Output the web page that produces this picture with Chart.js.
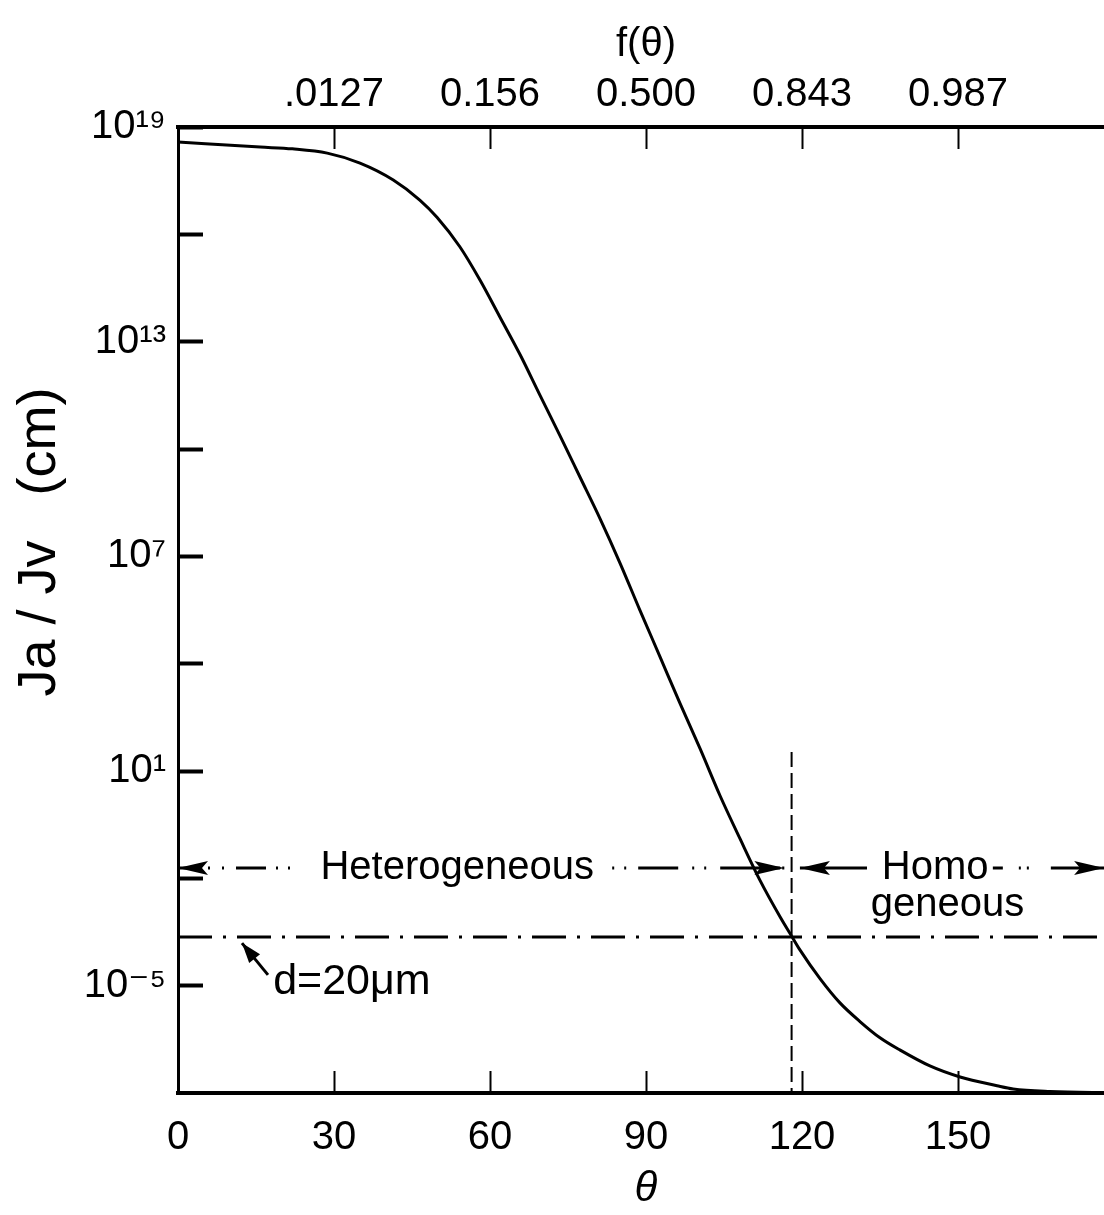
<!DOCTYPE html>
<html>
<head>
<meta charset="utf-8">
<script src="https://cdn.jsdelivr.net/npm/chart.js@4/dist/chart.umd.min.js"></script>
<style>
html,body{margin:0;padding:0;background:#fff;overflow:hidden;width:1104px;height:1215px}
#wrap{position:absolute;left:0;top:0;width:1140px;height:1215px}
canvas{display:block}
</style>
</head>
<body>
<div id="wrap"><canvas id="c" width="1140" height="1215"></canvas></div>
<script>
// ---- data ----
const thetaDeg = [0, 15.8, 22, 28.7, 35, 41.4, 46.5, 49.8, 54.2, 58.1, 61.9, 65.8, 69.6, 73.5, 77.3, 81.2, 85, 88.8, 92.7, 96.5, 100.4, 104.2, 108.1, 111.9, 115.8, 118.1, 119.6, 123.5, 127.3, 131.2, 135, 138.8, 144.6, 150.4, 157.5, 160.6, 167.7, 180];
const jaOverJv = [3.8e18, 2.75e18, 2.45e18, 1.86e18, 9.8e17, 3.3e17, 9.1e16, 3.0e16, 4.5e15, 5.2e14, 4.9e13, 4.3e12, 3.2e11, 2.3e10, 1.65e9, 1.1e8, 6.5e6, 3.2e5, 1.55e4, 800, 42, 2.1, 0.126, 8.9e-3, 8.3e-4, 2.3e-4, 1.0e-4, 1.55e-5, 3.3e-6, 9.8e-7, 3.5e-7, 1.6e-7, 5.7e-8, 2.8e-8, 1.6e-8, 1.3e-8, 1.1e-8, 1.0e-8];

const xTickValues = [0, 30, 60, 90, 120, 150, 180];
const xTickLabels = ['0', '30', '60', '90', '120', '150', ''];
const fTickLabels = ['', '.0127', '0.156', '0.500', '0.843', '0.987', ''];
const yTickValues = [1e19, 1e16, 1e13, 1e10, 1e7, 1e4, 1e1, 1e-2, 1e-5];
const yTickLabels = ['10¹⁹', '', '10¹³', '', '10⁷', '', '10¹', '', '10⁻⁵'];

const dLineTheta = [0, 180];
const dLineValue = [2.3e-4, 2.3e-4];
const boundaryTheta = [118, 118];
const boundaryValue = [34, 1e-8];
const heteroLevel = 1.95e-2;
const heteroLeftTheta = [0, 23.6];
const heteroRightTheta = [83.5, 116.6];
const homoLeftTheta = [119.6, 132.5];
const homoRightTheta = [156.7, 178.1];
const arrowTheta = [0, 116.6, 119.6, 178.1];
const arrowDir = [-1, 1, -1, 1];
const dArrowTheta = [17.3, 12.3];
const dArrowValue = [2.0e-5, 1.55e-4];
const noteText = ['Heterogeneous', 'Homo', 'geneous', 'd=20μm'];
const noteTheta = [53.7, 145.6, 148, 18.3];
const noteValue = [heteroLevel, heteroLevel, 1.8e-3, 1.26e-5];
const noteAlign = ['center', 'center', 'center', 'left'];
const noteSize = [40, 40, 40, 43];

const FONT = "'Liberation Sans', 'DejaVu Sans', sans-serif";

const pts = (xs, ys) => xs.map((v, i) => ({x: v, y: ys[i]}));
const level = (xs, v) => xs.map(t => ({x: t, y: v}));

const overlay = {
  id: 'overlay',
  afterDatasetsDraw(chart) {
    const {ctx, scales: {x, y}} = chart;
    ctx.save();
    ctx.fillStyle = '#000';
    ctx.strokeStyle = '#000';
    // arrowheads on the regime lines
    arrowTheta.forEach((t, i) => {
      const px = x.getPixelForValue(t), py = y.getPixelForValue(heteroLevel);
      const d = arrowDir[i];
      ctx.beginPath();
      ctx.moveTo(px, py);
      ctx.lineTo(px - d * 30, py - 7);
      ctx.lineTo(px - d * 24, py);
      ctx.lineTo(px - d * 30, py + 7);
      ctx.closePath();
      ctx.fill();
    });
    // d = 20 um pointer
    const x0 = x.getPixelForValue(dArrowTheta[0]), y0 = y.getPixelForValue(dArrowValue[0]);
    const x1 = x.getPixelForValue(dArrowTheta[1]), y1 = y.getPixelForValue(dArrowValue[1]);
    ctx.lineWidth = 3;
    ctx.beginPath(); ctx.moveTo(x0, y0); ctx.lineTo(x1, y1); ctx.stroke();
    const ang = Math.atan2(y1 - y0, x1 - x0);
    ctx.beginPath();
    ctx.moveTo(x1, y1);
    ctx.lineTo(x1 - 20 * Math.cos(ang) + 7 * Math.sin(ang), y1 - 20 * Math.sin(ang) - 7 * Math.cos(ang));
    ctx.lineTo(x1 - 20 * Math.cos(ang) - 7 * Math.sin(ang), y1 - 20 * Math.sin(ang) + 7 * Math.cos(ang));
    ctx.closePath(); ctx.fill();
    // notes
    ctx.textBaseline = 'middle';
    noteText.forEach((s, i) => {
      ctx.font = noteSize[i] + 'px ' + FONT;
      ctx.textAlign = noteAlign[i];
      ctx.fillText(s, x.getPixelForValue(noteTheta[i]), y.getPixelForValue(noteValue[i]));
    });
    // y axis title
    ctx.translate(40, 542);
    ctx.rotate(-Math.PI / 2);
    ctx.textAlign = 'center';
    ctx.font = '54px ' + FONT;
    ctx.fillText('Ja / Jv   (cm)', 0, 0);
    ctx.restore();
  }
};

new Chart(document.getElementById('c'), {
  type: 'line',
  data: {
    datasets: [
      {data: pts(thetaDeg, jaOverJv), borderColor: '#000', borderWidth: 3, pointRadius: 0, cubicInterpolationMode: 'monotone'},
      {data: pts(dLineTheta, dLineValue), borderColor: '#000', borderWidth: 3, pointRadius: 0, borderDash: [34, 11, 3, 11]},
      {data: pts(boundaryTheta, boundaryValue), borderColor: '#000', borderWidth: 2, pointRadius: 0, borderDash: [15, 6]},
      {data: level(heteroLeftTheta, heteroLevel), borderColor: '#000', borderWidth: 3, pointRadius: 0, borderDash: [20, 10, 2, 12, 2, 12, 30, 10, 2, 10, 2, 12]},
      {data: level(heteroRightTheta, heteroLevel), borderColor: '#000', borderWidth: 3, pointRadius: 0, borderDash: [2, 10, 2, 12, 40, 14, 2, 10, 2, 14, 60]},
      {data: level(homoLeftTheta, heteroLevel), borderColor: '#000', borderWidth: 3, pointRadius: 0},
      {data: level(homoRightTheta, heteroLevel), borderColor: '#000', borderWidth: 3, pointRadius: 0, borderDash: [10, 16, 2, 6, 2, 22, 80]}
    ]
  },
  options: {
    responsive: false,
    animation: false,
    devicePixelRatio: 1,
    layout: {padding: {left: 0, right: 26, top: 0, bottom: 0}},
    plugins: {legend: {display: false}, tooltip: {enabled: false}},
    scales: {
      x: {
        type: 'linear', position: 'bottom', min: 0, max: 180,
        afterBuildTicks: s => { s.ticks = xTickValues.map(v => ({value: v})); },
        afterFit: s => { s.height = 122; s.paddingLeft = 0; s.paddingRight = 0; },
        border: {display: true, width: 4, color: '#000'},
        grid: {drawOnChartArea: false, drawTicks: true, tickLength: -22, tickWidth: 2, color: '#000', tickColor: '#000'},
        ticks: {autoSkip: false, maxRotation: 0, padding: 43, color: '#000', font: {family: FONT, size: 40},
                callback: (v, i) => xTickLabels[i]},
        title: {display: true, text: 'θ', color: '#000', font: {family: FONT, size: 42, style: 'italic'}, padding: {top: 0, bottom: 0}}
      },
      x2: {
        type: 'linear', position: 'top', min: 0, max: 180,
        afterBuildTicks: s => { s.ticks = xTickValues.map(v => ({value: v})); },
        afterFit: s => { s.height = 127; s.paddingLeft = 0; s.paddingRight = 0; },
        border: {display: true, width: 4, color: '#000'},
        grid: {drawOnChartArea: false, drawTicks: true, tickLength: -22, tickWidth: 2, color: '#000', tickColor: '#000'},
        ticks: {autoSkip: false, maxRotation: 0, padding: 30, color: '#000', font: {family: FONT, size: 40},
                callback: (v, i) => fTickLabels[i]},
        title: {display: true, text: 'f(θ)', color: '#000', font: {family: FONT, size: 40}, padding: {top: 21, bottom: 0}}
      },
      y: {
        type: 'logarithmic', position: 'left', min: 1e-8, max: 1e19,
        afterBuildTicks: s => { s.ticks = yTickValues.map(v => ({value: v})); },
        afterFit: s => { s.width = 178; s.paddingTop = 0; s.paddingBottom = 0; },
        border: {display: true, width: 3, color: '#000'},
        grid: {drawOnChartArea: false, drawTicks: true, tickLength: -25, tickWidth: 4, color: '#000', tickColor: '#000'},
        ticks: {autoSkip: false, padding: 37, color: '#000', font: {family: FONT, size: 40},
                callback: (v, i) => yTickLabels[i]}
      }
    }
  },
  plugins: [overlay]
});
</script>
</body>
</html>
